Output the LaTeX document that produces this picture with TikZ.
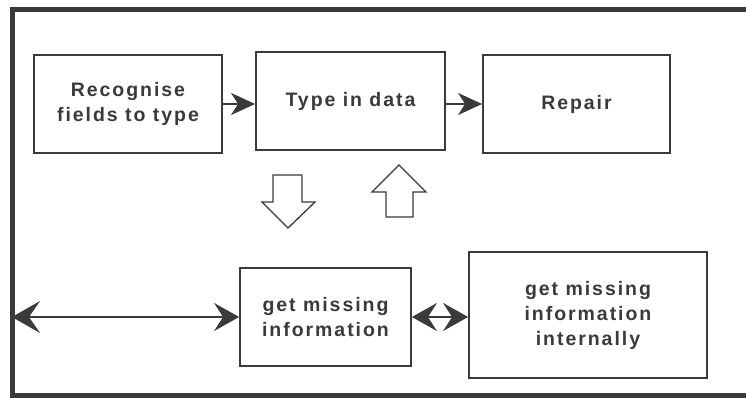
\documentclass[tikz,border=0pt]{standalone}
\usepackage{fontspec}
\newfontfamily\boxfont{Liberation Sans}[LetterSpace=10]
\usetikzlibrary{arrows.meta}
\definecolor{ink}{HTML}{3A3A3A}
\tikzset{
  stagebox/.style={draw=ink, line width=1.8pt, fill=white, align=center, text=ink,
    font=\boxfont\bfseries\fontsize{19.5}{25}\selectfont, inner sep=0pt},
  link/.style={draw=ink, line width=2pt, -{Stealth[length=24pt,width=22pt,inset=7pt]}},
  biglink/.style={draw=ink, line width=2pt, {Stealth[length=25pt,width=28pt,inset=9pt]}-{Stealth[length=25pt,width=28pt,inset=9pt]}},
  blockarrow/.style={draw=ink, line width=1.3pt, fill=white, line join=miter}
}
\begin{document}
\begin{tikzpicture}[x=1pt, y=-1pt]

\useasboundingbox (0,0) rectangle (746,398);

\draw[ink, line width=5pt] (746,10) -- (12,10) -- (12,395) -- (746,395);

\node[stagebox, minimum width=188pt, minimum height=98pt] (recog) at (128,104) {Recognise\\fields to type};
\node[stagebox, minimum width=189pt, minimum height=98pt] (typein) at (350.5,101) {Type in data};
\node[stagebox, minimum width=187pt, minimum height=98pt] (repair) at (576.5,104) {Repair};
\node[stagebox, minimum width=171pt, minimum height=98pt] (getmiss) at (325.5,317) {get missing\\information};
\node[stagebox, minimum width=238pt, minimum height=126pt] (internal) at (588,315) {get missing\\information\\internally};

\draw[link] (recog.east) -- (recog.east -| typein.west);
\draw[link] (typein.east |- repair.west) -- (repair.west);

\draw[blockarrow] (273,175) -- (302,175) -- (302,202) -- (315,202) -- (288,228) -- (262,202) -- (273,202) -- cycle;
\draw[blockarrow] (386,217) -- (413,217) -- (413,192) -- (426,192) -- (399,165) -- (372,192) -- (386,192) -- cycle;

\coordinate (edge) at (12,317);
\draw[biglink, {Stealth[length=28pt,width=32pt,inset=11pt]}-{Stealth[length=25pt,width=28pt,inset=9pt]}] (edge) -- (getmiss.west);
\draw[biglink] (getmiss.east) -- (getmiss.east -| internal.west);

\end{tikzpicture}
\end{document}
